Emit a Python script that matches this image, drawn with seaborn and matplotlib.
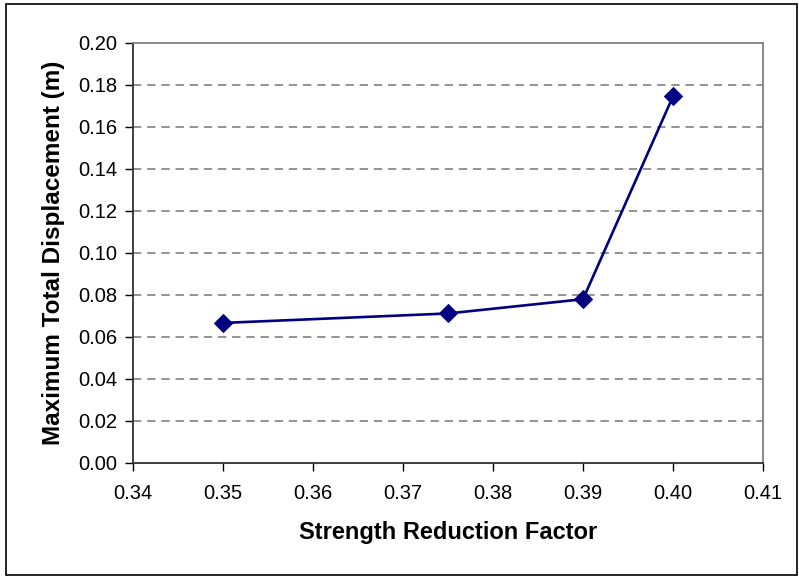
import matplotlib
matplotlib.use("Agg")
import matplotlib.pyplot as plt
import matplotlib.patches as patches
import pandas as pd
import seaborn as sns

# values
srf = [0.35, 0.375, 0.39, 0.40]
max_disp = [0.0667, 0.0712, 0.0780, 0.1746]
x_ticks = [0.34, 0.35, 0.36, 0.37, 0.38, 0.39, 0.40, 0.41]
y_ticks = [0.00, 0.02, 0.04, 0.06, 0.08, 0.10, 0.12, 0.14, 0.16, 0.18, 0.20]

sns.set_style("white")
plt.rcParams['font.family'] = ['Liberation Sans', 'DejaVu Sans']
plt.rcParams['text.color'] = 'black'

df = pd.DataFrame({"srf": srf, "disp": max_disp})

fig = plt.figure(figsize=(7.99, 5.77), dpi=100)
ax = fig.add_axes([133 / 799, 1 - 463 / 577, 630 / 799, 420 / 577])

# dashed gridlines (Excel style)
for yv in y_ticks[1:-1]:
    ax.axhline(yv, color="#808080", lw=1.2, ls=(0, (5, 3.5)), zorder=0)

sns.lineplot(data=df, x="srf", y="disp", ax=ax, color="#000080", lw=1.9,
             marker="D", markersize=9, markeredgecolor="#000080",
             markerfacecolor="#000080")

ax.set_xlim(0.34, 0.41)
ax.set_ylim(0.0, 0.20)
ax.set_xticks(x_ticks)
ax.set_yticks(y_ticks)
ax.set_xticklabels([f"{v:.2f}" for v in x_ticks])
ax.set_yticklabels([f"{v:.2f}" for v in y_ticks])
ax.tick_params(axis="both", direction="out", length=6, width=1, color="#000000",
               labelsize=14.5, labelcolor="black", bottom=True, left=True)
ax.tick_params(axis="x", pad=9)
ax.tick_params(axis="y", pad=5)

for side in ["top", "right"]:
    ax.spines[side].set_color("#808080")
    ax.spines[side].set_linewidth(1.3)
for side in ["left", "bottom"]:
    ax.spines[side].set_color("#303030")
    ax.spines[side].set_linewidth(1.3)

ax.set_xlabel("Strength Reduction Factor", fontsize=17, fontweight="bold",
              color="black", va="center")
ax.set_ylabel("Maximum Total Displacement (m)", fontsize=17.5, fontweight="bold",
              color="black", va="center")
ax.xaxis.set_label_coords(0.5, (463 - 533) / 420)
ax.yaxis.set_label_coords((54 - 133) / 630, 0.5)

# outer chart border
fig.patches.append(patches.Rectangle((6 / 799, 2 / 577), 791 / 799, 571 / 577,
                                     transform=fig.transFigure, fill=False,
                                     edgecolor="#000000", lw=1.2))

fig.savefig("out.png", dpi=100)
